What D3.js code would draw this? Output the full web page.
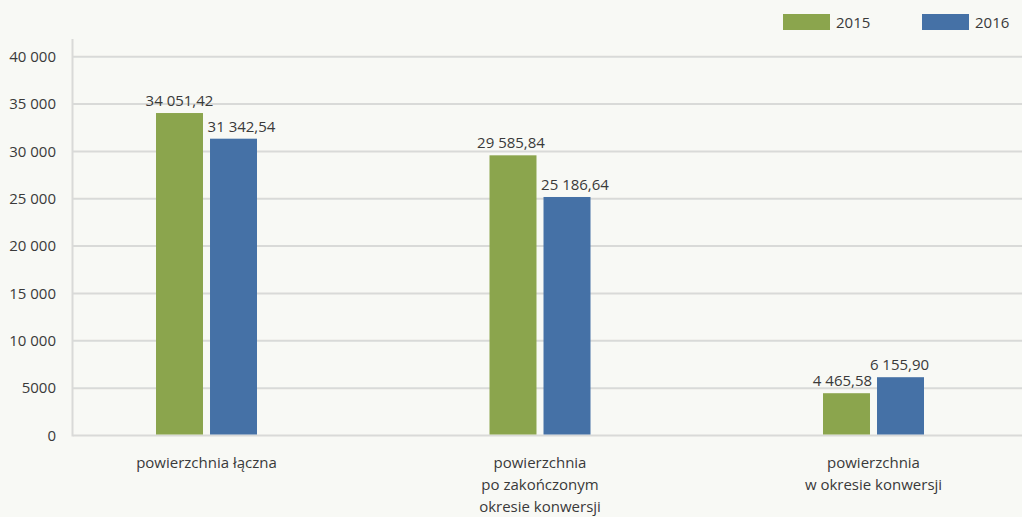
<!DOCTYPE html>
<html><head><meta charset="utf-8">
<script src="https://cdn.jsdelivr.net/npm/d3@7"></script>
<style>
body{margin:0;background:#f8f9f5;}
svg{display:block;}
text{font-family:"Open Sans","Noto Sans",sans-serif;fill:#3a3a3a;}
</style></head><body>
<div id="chart"></div>
<script>
const categories = [["powierzchnia łączna"], ["powierzchnia","po zakończonym","okresie konwersji"], ["powierzchnia","w okresie konwersji"]];
const seriesNames = ["2015", "2016"];
const values2015 = [34051.42, 29585.84, 4465.58];
const values2016 = [31342.54, 25186.64, 6155.90];
const yTicks = [0, 5000, 10000, 15000, 20000, 25000, 30000, 35000, 40000];
const colors = ["#8ba54d", "#4571a6"];

// label nudges (style only, px)
const labelDx = [[0, -2, -4], [8, 8, -1]];

const W = 1022, H = 517;
const FS = 15, FW = 400, TC = "#3d3d3d";
const svg = d3.select("#chart").append("svg").attr("width", W).attr("height", H);
svg.append("rect").attr("width", W).attr("height", H).attr("fill", "#f8f9f5");

const y = d3.scaleLinear().domain([0, 40000]).range([435.5, 56.7]);
const x0 = d3.scaleBand().domain(d3.range(categories.length)).range([39.75, 1040.25]);
const x1 = d3.scaleBand().domain([0, 1]).range([0, 101]).paddingInner(0.13);

const fmtTick = v => v === 0 ? "0" : (v < 10000 ? String(v) : d3.format(",")(v).replace(/,/g, " "));
const fmtVal = v => {
  const s = v.toFixed(2).split(".");
  return s[0].replace(/\B(?=(\d{3})+(?!\d))/g, " ") + "," + s[1];
};

const yAxis = d3.axisLeft(y).tickValues(yTicks).tickSize(0).tickPadding(0).tickFormat(fmtTick);
const ga = svg.append("g").attr("transform", "translate(56,0)").call(yAxis);
ga.select(".domain").remove();
ga.selectAll("text").attr("font-size", FS).attr("fill", TC).attr("font-family", "'Open Sans','Noto Sans',sans-serif").attr("font-weight", FW);

svg.append("g").selectAll("line").data(yTicks).join("line")
  .attr("x1", 73).attr("x2", W).attr("y1", d => y(d)).attr("y2", d => y(d))
  .attr("stroke", "#d9dad8").attr("stroke-width", 2);
svg.append("line").attr("x1", 72.5).attr("x2", 72.5).attr("y1", 39).attr("y2", 436.5)
  .attr("stroke", "#d9dad8").attr("stroke-width", 2);

const series = [values2015, values2016];
const groupStart = i => x0(i) + x0.bandwidth() / 2 - 50.5;

series.forEach((vals, s) => {
  svg.append("g").selectAll("rect").data(vals).join("rect")
    .attr("x", (d, i) => groupStart(i) + x1(s))
    .attr("width", x1.bandwidth())
    .attr("y", d => y(d))
    .attr("height", d => y(0) - y(d) - 1)
    .attr("fill", colors[s]);
  svg.append("g").selectAll("text").data(vals).join("text")
    .attr("x", (d, i) => groupStart(i) + x1(s) + x1.bandwidth() / 2 + labelDx[s][i])
    .attr("y", d => y(d) - 7)
    .attr("text-anchor", "middle").attr("font-size", FS).attr("font-weight", FW).attr("fill", TC)
    .text(d => fmtVal(d));
});

const cg = svg.append("g").selectAll("text").data(categories).join("text")
  .attr("x", (d, i) => x0(i) + x0.bandwidth() / 2)
  .attr("y", 468).attr("text-anchor", "middle").attr("font-size", FS).attr("font-weight", FW).attr("fill", TC);
cg.selectAll("tspan").data(d => d).join("tspan")
  .attr("x", function(){ return d3.select(this.parentNode).attr("x"); })
  .attr("dy", (d, j) => j === 0 ? 0 : 22)
  .text(d => d);

const legX = [783, 922];
seriesNames.forEach((n, s) => {
  svg.append("rect").attr("x", legX[s]).attr("y", 14).attr("width", 47).attr("height", 16).attr("fill", colors[s]);
  svg.append("text").attr("x", legX[s] + 53).attr("y", 28).attr("font-size", FS).attr("font-weight", FW).attr("fill", TC).text(n);
});
</script>
</body></html>
